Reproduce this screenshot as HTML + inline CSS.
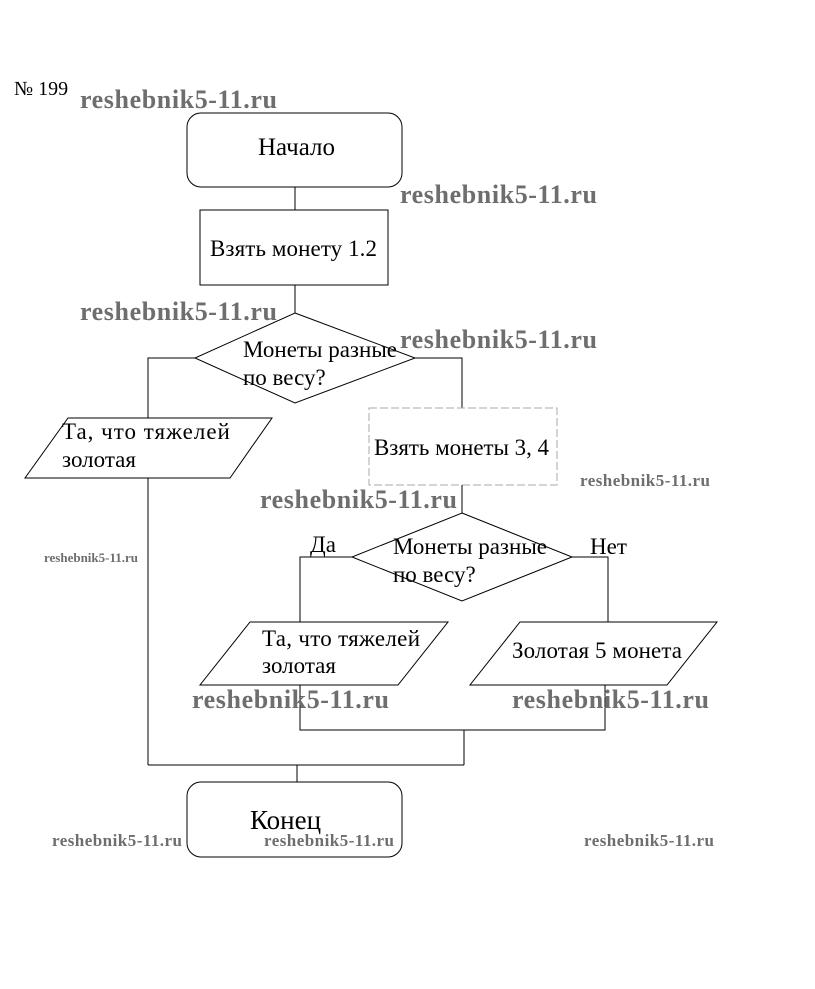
<!DOCTYPE html>
<html><head><meta charset="utf-8"><style>
html,body{margin:0;padding:0;background:#fff;}
svg{display:block;}
.t{font-family:"Liberation Serif",serif;font-size:23px;fill:#000;}
.w{font-family:"Liberation Serif",serif;font-weight:bold;font-size:26px;fill:#6e6e6e;}
.ws{font-family:"Liberation Serif",serif;font-weight:bold;font-size:17px;fill:#6e6e6e;}
</style></head><body>
<svg width="815" height="989" viewBox="0 0 815 989" xmlns="http://www.w3.org/2000/svg">
<g fill="none" stroke="#000" stroke-width="1">
<rect x="187" y="113" width="215" height="74" rx="14"/>
<line x1="295" y1="187" x2="295" y2="210"/>
<rect x="200" y="210" width="188" height="75"/>
<line x1="295" y1="285" x2="295" y2="313"/>
<polygon points="295,313 415,358 295,403 195,358"/>
<polyline points="195,358 148,358 148,418"/>
<polygon points="68,418 272,418 230,478 25,478"/>
<line x1="148" y1="478" x2="148" y2="765"/>
<polyline points="415,358 462,358 462,408"/>
<rect x="369" y="408" width="188" height="77" stroke="#aaa" stroke-dasharray="8,3"/>
<line x1="462" y1="485" x2="462" y2="513"/>
<polygon points="462,513 572,557 462,601 352,557"/>
<polyline points="352,557 300,557 300,622"/>
<polygon points="250,622 448,622 398,685 200,685"/>
<polyline points="572,557 608,557 608,622"/>
<polygon points="520,622 717,622 667,685 470,685"/>
<polyline points="300,685 300,730 605,730 605,685"/>
<line x1="464" y1="730" x2="464" y2="765"/>
<line x1="148" y1="765" x2="464" y2="765"/>
<line x1="297" y1="765" x2="297" y2="782"/>
<rect x="187" y="782" width="215" height="75" rx="14"/>
</g>
<text class="t" x="14" y="95" style="font-size:20px">№ 199</text>
<text class="t" x="258" y="155" style="font-size:25px">Начало</text>
<text class="t" x="210" y="256" textLength="167">Взять монету 1.2</text>
<text class="t" x="243" y="357" textLength="154">Монеты разные</text>
<text class="t" x="243" y="385">по весу?</text>
<text class="t" x="62" y="439" style="letter-spacing:1px">Та, что тяжелей</text>
<text class="t" x="62" y="467">золотая</text>
<text class="t" x="374" y="455" fill="#444" textLength="175">Взять монеты 3, 4</text>
<text class="t" x="310" y="552">Да</text>
<text class="t" x="590" y="554">Нет</text>
<text class="t" x="393" y="554" textLength="154">Монеты разные</text>
<text class="t" x="393" y="582">по весу?</text>
<text class="t" x="262" y="646" textLength="158">Та, что тяжелей</text>
<text class="t" x="262" y="673">золотая</text>
<text class="t" x="512" y="658" textLength="170">Золотая 5 монета</text>
<text class="t" x="250" y="829" style="font-size:27px">Конец</text>
<text class="w" x="80" y="108" textLength="197">reshebnik5-11.ru</text>
<text class="w" x="400" y="203" textLength="197">reshebnik5-11.ru</text>
<text class="w" x="80" y="320" textLength="197">reshebnik5-11.ru</text>
<text class="w" x="400" y="348" textLength="197">reshebnik5-11.ru</text>
<text class="w" x="260" y="508" textLength="197">reshebnik5-11.ru</text>
<text class="w" x="192" y="708" textLength="197">reshebnik5-11.ru</text>
<text class="w" x="512" y="708" textLength="197">reshebnik5-11.ru</text>
<text class="ws" x="580" y="486" textLength="130">reshebnik5-11.ru</text>
<text class="ws" x="44" y="562" style="font-size:13px" textLength="94">reshebnik5-11.ru</text>
<text class="ws" x="52" y="846" textLength="130">reshebnik5-11.ru</text>
<text class="ws" x="264" y="846" textLength="130">reshebnik5-11.ru</text>
<text class="ws" x="584" y="846" textLength="130">reshebnik5-11.ru</text>
</svg>
</body></html>
